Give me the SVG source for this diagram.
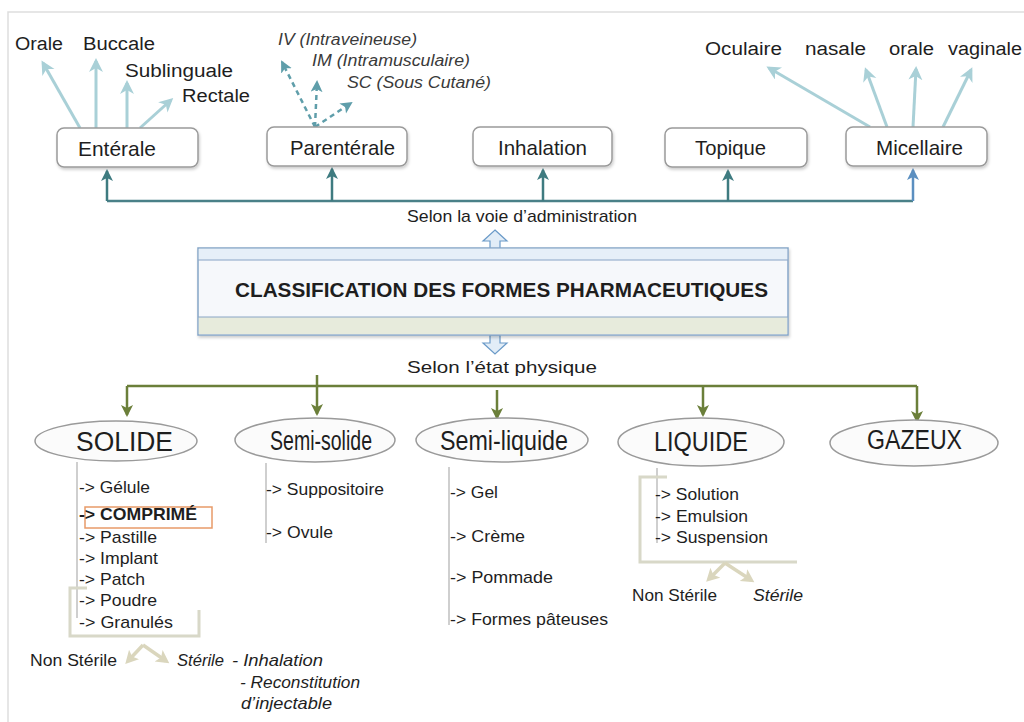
<svg xmlns="http://www.w3.org/2000/svg" width="1024" height="722" viewBox="0 0 1024 722">
<defs>
<style>
text{font-family:"Liberation Sans",Arial,sans-serif;fill:#1e1e1e;}
.lbl{font-size:18px;}
.box{fill:#fff;stroke:#9a9a9a;stroke-width:1.5;}
.bt{font-size:21px;}
.it{font-style:italic;font-size:16px;fill:#3a3a3a;}
.el{fill:#fbfbfb;stroke:#9a9a9a;stroke-width:1.5;}
.et{font-size:27px;}
.li{font-size:17px;}
.sel{font-size:17px;}
.light{stroke:#a9d0d7;stroke-width:3;fill:none;marker-end:url(#mLight);}
.dash{stroke:#5f9eaa;stroke-width:2.5;fill:none;stroke-dasharray:5 4;marker-end:url(#mDash);}
.teal{stroke:#4a8088;stroke-width:2.5;fill:none;}
.tealA{stroke:#3e7b80;stroke-width:2.5;fill:none;marker-end:url(#mTeal);}
.blueA{stroke:#5b8fc0;stroke-width:2.5;fill:none;marker-end:url(#mBlue);}
.green{stroke:#6b7f3a;stroke-width:2.5;fill:none;}
.greenA{stroke:#6b7f3a;stroke-width:2.5;fill:none;marker-end:url(#mGreen);}
.vl{stroke:#cfcfcf;stroke-width:2;fill:none;}
.br{stroke:#d8d8c8;stroke-width:3;fill:none;}
.beige{stroke:#dad6bd;stroke-width:3.5;fill:none;marker-end:url(#mBeige);}
</style>
<marker id="mLight" markerUnits="userSpaceOnUse" markerWidth="16" markerHeight="16" refX="11" refY="7" orient="auto"><path d="M0,0 L14,7 L0,14 L4,7 Z" fill="#a9d0d7"/></marker>
<marker id="mDash" markerUnits="userSpaceOnUse" markerWidth="16" markerHeight="16" refX="10" refY="6" orient="auto"><path d="M0,0 L12,6 L0,12 L3,6 Z" fill="#5f9eaa"/></marker>
<marker id="mTeal" markerUnits="userSpaceOnUse" markerWidth="16" markerHeight="16" refX="10" refY="6" orient="auto"><path d="M0,0 L12,6 L0,12 L3,6 Z" fill="#3e7b80"/></marker>
<marker id="mBlue" markerUnits="userSpaceOnUse" markerWidth="16" markerHeight="16" refX="10" refY="6" orient="auto"><path d="M0,0 L12,6 L0,12 L3,6 Z" fill="#5b8fc0"/></marker>
<marker id="mGreen" markerUnits="userSpaceOnUse" markerWidth="16" markerHeight="16" refX="10" refY="6" orient="auto"><path d="M0,0 L12,6 L0,12 L3,6 Z" fill="#6b7f3a"/></marker>
<marker id="mBeige" markerUnits="userSpaceOnUse" markerWidth="16" markerHeight="16" refX="9" refY="7" orient="auto"><path d="M0,0 L13,7 L0,14 L3,7 Z" fill="#dad6bd"/></marker>
<filter id="sh" x="-10%" y="-20%" width="120%" height="150%"><feDropShadow dx="1" dy="2" stdDeviation="1.5" flood-color="#000" flood-opacity="0.2"/></filter>
</defs>
<rect width="1024" height="722" fill="#fff"/>
<path d="M8 722 V12 H1024" fill="none" stroke="#dedede" stroke-width="1.5"/>

<g id="connectors">
<line class="light" x1="80" y1="128" x2="43" y2="63"/>
<line class="light" x1="96" y1="128" x2="96" y2="61"/>
<line class="light" x1="127" y1="128" x2="127" y2="83"/>
<line class="light" x1="140" y1="128" x2="171" y2="100"/>
<line class="dash" x1="315" y1="127" x2="282" y2="62"/>
<line class="dash" x1="315" y1="127" x2="317" y2="82"/>
<line class="dash" x1="315" y1="127" x2="351" y2="103"/>
<line class="light" x1="870" y1="127" x2="769" y2="68"/>
<line class="light" x1="887" y1="127" x2="866" y2="70"/>
<line class="light" x1="913" y1="127" x2="916" y2="69"/>
<line class="light" x1="943" y1="127" x2="971" y2="70"/>
<path class="teal" d="M107 201 H913"/>
<line class="tealA" x1="107" y1="201" x2="107" y2="171"/>
<line class="tealA" x1="332" y1="201" x2="332" y2="169"/>
<line class="tealA" x1="543" y1="201" x2="543" y2="170"/>
<line class="tealA" x1="728" y1="201" x2="728" y2="171"/>
<line class="blueA" x1="913" y1="201" x2="913" y2="170"/>
<path d="M495 230 L507 241 L500 241 L500 249 L490 249 L490 241 L483 241 Z" fill="#e2edf7" stroke="#6a9ac8" stroke-width="1.2"/>
<path d="M490 335 L500 335 L500 343 L507 343 L495 354 L483 343 L490 343 Z" fill="#e2edf7" stroke="#6a9ac8" stroke-width="1.2"/>
<path class="green" d="M127 386 H917"/>
<line class="greenA" x1="127" y1="386" x2="127" y2="415"/>
<line class="greenA" x1="317" y1="375" x2="317" y2="414"/>
<line class="greenA" x1="497" y1="390" x2="497" y2="418"/>
<line class="greenA" x1="703" y1="386" x2="703" y2="415"/>
<line class="greenA" x1="917" y1="386" x2="917" y2="421"/>
<line class="vl" x1="77" y1="462" x2="77" y2="618"/>
<path class="br" d="M87 588 H70 V636 H199 V610"/>
<line class="beige" x1="143" y1="645" x2="128" y2="661"/>
<line class="beige" x1="143" y1="645" x2="166" y2="661"/>
<line class="vl" x1="266" y1="463" x2="266" y2="543"/>
<line class="vl" x1="449" y1="467" x2="449" y2="625"/>
<line class="vl" x1="657" y1="468" x2="657" y2="543"/>
<path class="br" d="M667 477 H640 V562 H797"/>
<line class="beige" x1="725" y1="563" x2="709" y2="579"/>
<line class="beige" x1="725" y1="563" x2="751" y2="580"/>
</g>

<g id="enterale">
<rect class="box" filter="url(#sh)" x="57" y="128" width="141" height="39" rx="7"/>
<text class="bt" x="78" y="156" textLength="78" lengthAdjust="spacingAndGlyphs">Entérale</text>
<text class="lbl" x="15" y="50" textLength="48" lengthAdjust="spacingAndGlyphs">Orale</text>
<text class="lbl" x="83" y="50" textLength="72" lengthAdjust="spacingAndGlyphs">Buccale</text>
<text class="lbl" x="125" y="77" textLength="108" lengthAdjust="spacingAndGlyphs">Sublinguale</text>
<text class="lbl" x="182" y="102" textLength="68" lengthAdjust="spacingAndGlyphs">Rectale</text>
</g>
<g id="parenterale">
<rect class="box" filter="url(#sh)" x="267" y="127" width="140" height="39" rx="7"/>
<text class="bt" x="290" y="155" textLength="105" lengthAdjust="spacingAndGlyphs">Parentérale</text>
<text class="it" x="278" y="45" textLength="139" lengthAdjust="spacingAndGlyphs">IV (Intraveineuse)</text>
<text class="it" x="312" y="66" textLength="158" lengthAdjust="spacingAndGlyphs">IM (Intramusculaire)</text>
<text class="it" x="347" y="88" textLength="144" lengthAdjust="spacingAndGlyphs">SC (Sous Cutané)</text>
</g>
<g id="inhalation">
<rect class="box" filter="url(#sh)" x="473" y="127" width="139" height="39" rx="7"/>
<text class="bt" x="498" y="155" textLength="89" lengthAdjust="spacingAndGlyphs">Inhalation</text>
</g>
<g id="topique">
<rect class="box" filter="url(#sh)" x="665" y="128" width="142" height="39" rx="7"/>
<text class="bt" x="695" y="155" textLength="71" lengthAdjust="spacingAndGlyphs">Topique</text>
</g>
<g id="micellaire">
<rect class="box" filter="url(#sh)" x="846" y="127" width="141" height="39" rx="7"/>
<text class="bt" x="876" y="155" textLength="87" lengthAdjust="spacingAndGlyphs">Micellaire</text>
<text class="lbl" x="705" y="55" textLength="77" lengthAdjust="spacingAndGlyphs">Oculaire</text>
<text class="lbl" x="805" y="55" textLength="61" lengthAdjust="spacingAndGlyphs">nasale</text>
<text class="lbl" x="889" y="55" textLength="45" lengthAdjust="spacingAndGlyphs">orale</text>
<text class="lbl" x="948" y="55" textLength="74" lengthAdjust="spacingAndGlyphs">vaginale</text>
</g>

<g id="classification">
<text class="sel" x="407" y="222" textLength="230" lengthAdjust="spacingAndGlyphs">Selon la voie d’administration</text>
<rect x="198" y="248" width="590" height="87" fill="#f6f8fb" stroke="#86a6c8" stroke-width="1.5" filter="url(#sh)"/>
<rect x="198.8" y="248.8" width="588.4" height="11.5" fill="#e6eff8"/>
<rect x="198.8" y="317" width="588.4" height="17.2" fill="#e7ebdc"/>
<line x1="198" y1="260" x2="788" y2="260" stroke="#8aa6c6" stroke-width="1.2"/>
<line x1="198" y1="317" x2="788" y2="317" stroke="#8aa6c6" stroke-width="1.2"/>
<text x="235" y="297" font-size="21" font-weight="bold" textLength="533" lengthAdjust="spacingAndGlyphs">CLASSIFICATION DES FORMES PHARMACEUTIQUES</text>
<text class="sel" x="407" y="373" textLength="190" lengthAdjust="spacingAndGlyphs">Selon l’état physique</text>
</g>

<g id="solide">
<ellipse class="el" cx="116" cy="441" rx="81" ry="20"/>
<text class="et" x="76" y="451" textLength="97" lengthAdjust="spacingAndGlyphs">SOLIDE</text>
<rect x="85" y="507" width="127" height="21" fill="none" stroke="#e89a68" stroke-width="1.5"/>
<text class="li" x="79" y="493" textLength="71" lengthAdjust="spacingAndGlyphs">-&gt; Gélule</text>
<text class="li" x="79" y="520" font-weight="bold" textLength="118" lengthAdjust="spacingAndGlyphs">-&gt; COMPRIMÉ</text>
<text class="li" x="79" y="543" textLength="78" lengthAdjust="spacingAndGlyphs">-&gt; Pastille</text>
<text class="li" x="79" y="564" textLength="79" lengthAdjust="spacingAndGlyphs">-&gt; Implant</text>
<text class="li" x="79" y="585" textLength="66" lengthAdjust="spacingAndGlyphs">-&gt; Patch</text>
<text class="li" x="79" y="606" textLength="78" lengthAdjust="spacingAndGlyphs">-&gt; Poudre</text>
<text class="li" x="79" y="628" textLength="94" lengthAdjust="spacingAndGlyphs">-&gt; Granulés</text>
<text class="li" x="30" y="666" textLength="87" lengthAdjust="spacingAndGlyphs">Non Stérile</text>
<text class="li" x="177" y="666" font-style="italic" textLength="47" lengthAdjust="spacingAndGlyphs">Stérile</text>
<text class="li" x="232" y="666" font-style="italic" textLength="91" lengthAdjust="spacingAndGlyphs">- Inhalation</text>
<text class="li" x="240" y="688" font-style="italic" textLength="120" lengthAdjust="spacingAndGlyphs">- Reconstitution</text>
<text class="li" x="241" y="709" font-style="italic" textLength="91" lengthAdjust="spacingAndGlyphs">d’injectable</text>
</g>
<g id="semi-solide">
<ellipse class="el" cx="315" cy="440" rx="80" ry="22"/>
<text class="et" x="270" y="450" textLength="102" lengthAdjust="spacingAndGlyphs">Semi-solide</text>
<text class="li" x="266" y="495" textLength="118" lengthAdjust="spacingAndGlyphs">-&gt; Suppositoire</text>
<text class="li" x="266" y="538" textLength="67" lengthAdjust="spacingAndGlyphs">-&gt; Ovule</text>
</g>
<g id="semi-liquide">
<ellipse class="el" cx="502" cy="440" rx="86" ry="22"/>
<text class="et" x="440" y="450" textLength="128" lengthAdjust="spacingAndGlyphs">Semi-liquide</text>
<text class="li" x="450" y="498" textLength="48" lengthAdjust="spacingAndGlyphs">-&gt; Gel</text>
<text class="li" x="450" y="542" textLength="75" lengthAdjust="spacingAndGlyphs">-&gt; Crème</text>
<text class="li" x="450" y="583" textLength="103" lengthAdjust="spacingAndGlyphs">-&gt; Pommade</text>
<text class="li" x="450" y="625" textLength="158" lengthAdjust="spacingAndGlyphs">-&gt; Formes pâteuses</text>
</g>
<g id="liquide">
<ellipse class="el" cx="701" cy="442" rx="83" ry="24"/>
<text class="et" x="654" y="451" textLength="94" lengthAdjust="spacingAndGlyphs">LIQUIDE</text>
<text class="li" x="655" y="500" textLength="84" lengthAdjust="spacingAndGlyphs">-&gt; Solution</text>
<text class="li" x="655" y="522" textLength="93" lengthAdjust="spacingAndGlyphs">-&gt; Emulsion</text>
<text class="li" x="655" y="543" textLength="113" lengthAdjust="spacingAndGlyphs">-&gt; Suspension</text>
<text class="li" x="632" y="601" textLength="85" lengthAdjust="spacingAndGlyphs">Non Stérile</text>
<text class="li" x="753" y="601" font-style="italic" textLength="50" lengthAdjust="spacingAndGlyphs">Stérile</text>
</g>
<g id="gazeux">
<ellipse class="el" cx="914" cy="443" rx="84" ry="23"/>
<text class="et" x="867" y="449" textLength="95" lengthAdjust="spacingAndGlyphs">GAZEUX</text>
</g>
</svg>
